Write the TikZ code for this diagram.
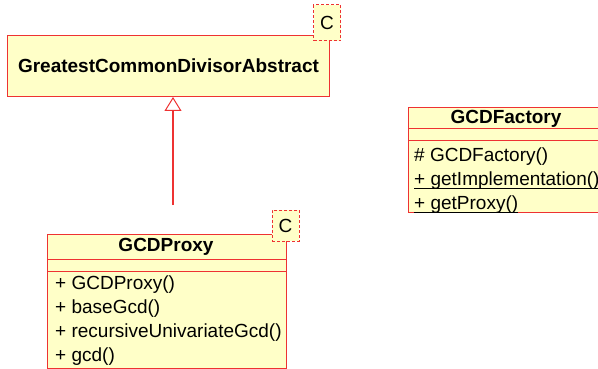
\documentclass[tikz,border=0pt]{standalone}
\usepackage{fontspec}
\setmainfont{Liberation Sans}
\usetikzlibrary{arrows.meta,positioning}
\definecolor{umlfill}{RGB}{255,255,200}
\definecolor{umlline}{RGB}{238,50,50}
\newcommand{\staticop}[1]{\underline{\smash{#1}\rule[-1pt]{0pt}{0pt}}}
\tikzset{classbox/.style={draw=umlline, fill=umlfill, line width=1pt, anchor=north west, inner sep=0pt},
  classname/.style={font=\fontsize{19}{22}\selectfont\bfseries, inner sep=0pt},
  member/.style={font=\fontsize{19}{22}\selectfont, anchor=west, inner sep=0pt, text height=14pt, text depth=4pt},
  tagbox/.style={draw=umlline, fill=umlfill, dashed, dash pattern=on 3pt off 2pt, line width=1pt, minimum width=27pt, inner sep=0pt, font=\fontsize{19}{22}\selectfont},
  generalization/.style={draw=umlline, line width=1.2pt, -{Triangle[open, width=17pt, length=14pt, line width=1pt]}}}

\begin{document}
\begin{tikzpicture}[x=1pt, y=-1pt]
    \useasboundingbox (0,0) rectangle (598,369);
    % abstract base class
    \node[classbox, minimum width=322pt, minimum height=61pt] (abs) at (7,35) {};
    \node[classname] (absname) at (abs.center) {GreatestCommonDivisorAbstract};
    \node[tagbox, minimum height=36pt] (abstag) at (327,23) {C};
    % proxy
    \node[classbox, minimum width=239pt, minimum height=134pt] (proxy) at (47,234) {};
    \draw[umlline, line width=1pt] (proxy.north west) ++(0,25) -- ++(239,0);
    \draw[umlline, line width=1pt] (proxy.north west) ++(0,37) -- ++(239,0);
    \node[classname] (proxyname) at (166,247) {GCDProxy};
    \node[member] (p1) at (55,284.5) {+ GCDProxy()};
    \node[member, below=24pt of p1.west, anchor=west] (p2) {+ baseGcd()};
    \node[member, below=24pt of p2.west, anchor=west] (p3) {+ recursiveUnivariateGcd()};
    \node[member, below=24pt of p3.west, anchor=west] (p4) {+ gcd()};
    \node[tagbox, minimum height=31pt] (proxytag) at (285.5,225.5) {C};
    % factory
    \node[classbox, minimum width=198pt, minimum height=105pt] (factory) at (408,107) {};
    \draw[umlline, line width=1pt] (factory.north west) ++(0,22) -- ++(198,0);
    \draw[umlline, line width=1pt] (factory.north west) ++(0,34) -- ++(198,0);
    \node[classname] (factoryname) at (506,119) {GCDFactory};
    \node[member] (f1) at (414,156.5) {\# GCDFactory()};
    \node[member, below=24pt of f1.west, anchor=west] (f2) {\staticop{+ getImplementation()}};
    \node[member, below=24pt of f2.west, anchor=west] (f3) {\staticop{+ getProxy()}};
    % generalization
    \coordinate (gen) at (173,205);
    \draw[generalization] (gen) -- (abs.south -| gen);
\end{tikzpicture}
\end{document}
